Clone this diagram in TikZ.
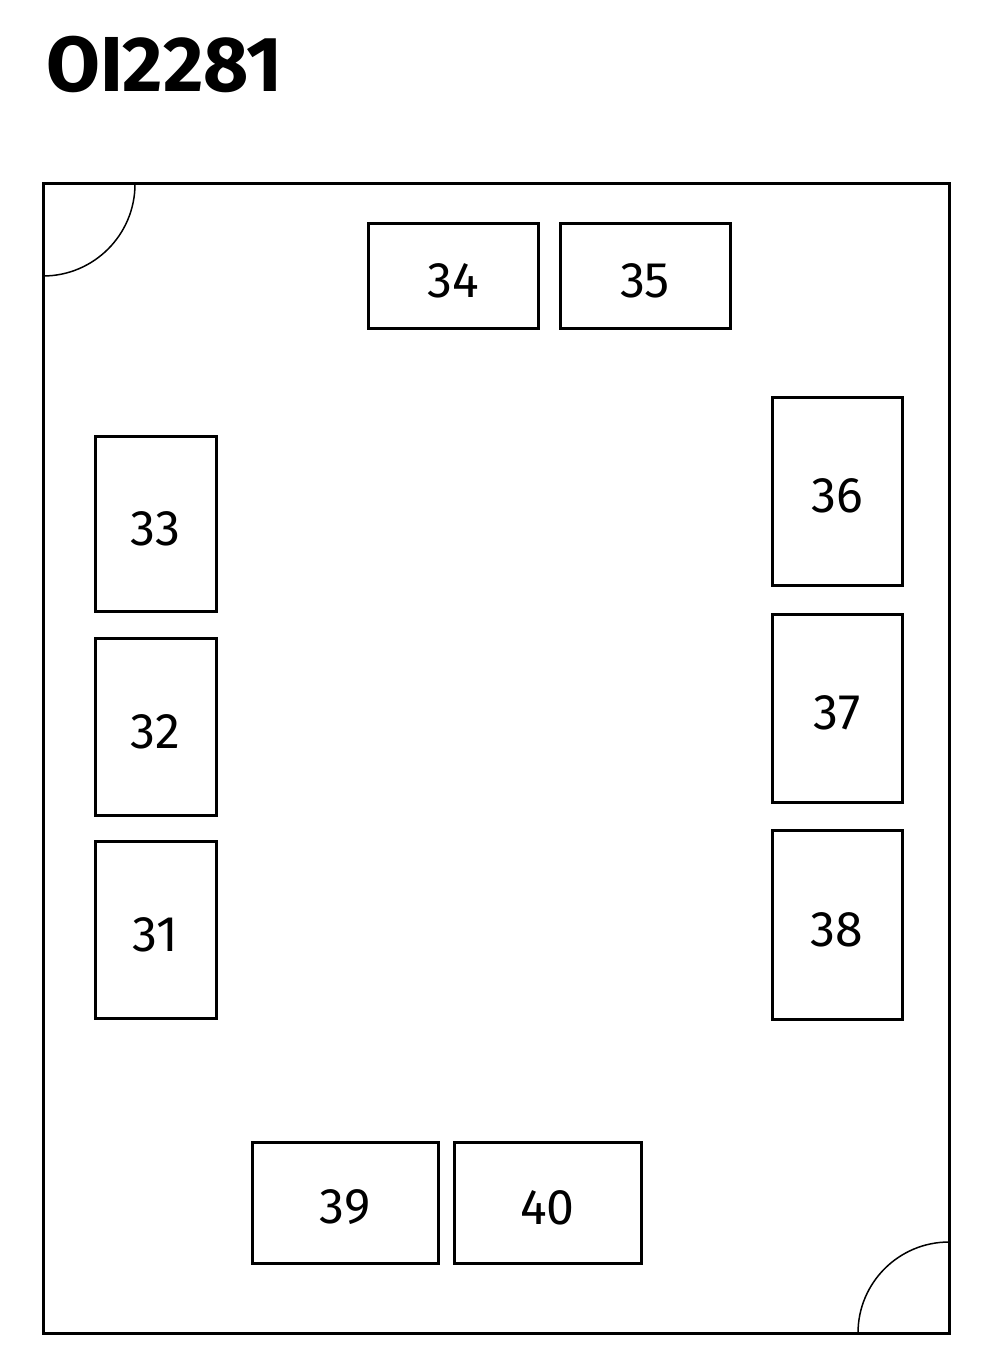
\documentclass[tikz,border=0pt]{standalone}
\usepackage{fontspec}
\setmainfont{Fira Sans}
\begin{document}
\begin{tikzpicture}[x=1pt,y=-1pt,
  wall/.style={line width=3pt}]
\useasboundingbox (0,0) rectangle (990,1372);
\node[anchor=base west,inner sep=0pt,font=\fontsize{78}{78}\selectfont\bfseries] (title) at (46,92) {OI2281};
\draw[wall] (43,184) rectangle (949,1333);
\draw[line width=1.5pt] (135,184) arc[start angle=0,end angle=90,radius=92];
\draw[line width=1.5pt] (858,1333) arc[start angle=180,end angle=270,radius=91];
\newcommand{\deskbox}[5]{\draw[wall] (#1,#2) rectangle (#3,#4); \node[font=\fontsize{50}{50}\selectfont] (d#5) at ({(#1+#3)/2},{(#2+#4)/2+5}) {#5};}
\deskbox{368}{224}{538}{328}{34}
\deskbox{560}{224}{730}{328}{35}
\deskbox{95}{436}{216}{611}{33}
\deskbox{95}{638}{216}{815}{32}
\deskbox{95}{841}{216}{1018}{31}
\deskbox{772}{397}{902}{585}{36}
\deskbox{772}{614}{902}{802}{37}
\deskbox{772}{830}{902}{1019}{38}
\deskbox{252}{1142}{438}{1263}{39}
\deskbox{454}{1142}{641}{1263}{40}
\end{tikzpicture}
\end{document}
